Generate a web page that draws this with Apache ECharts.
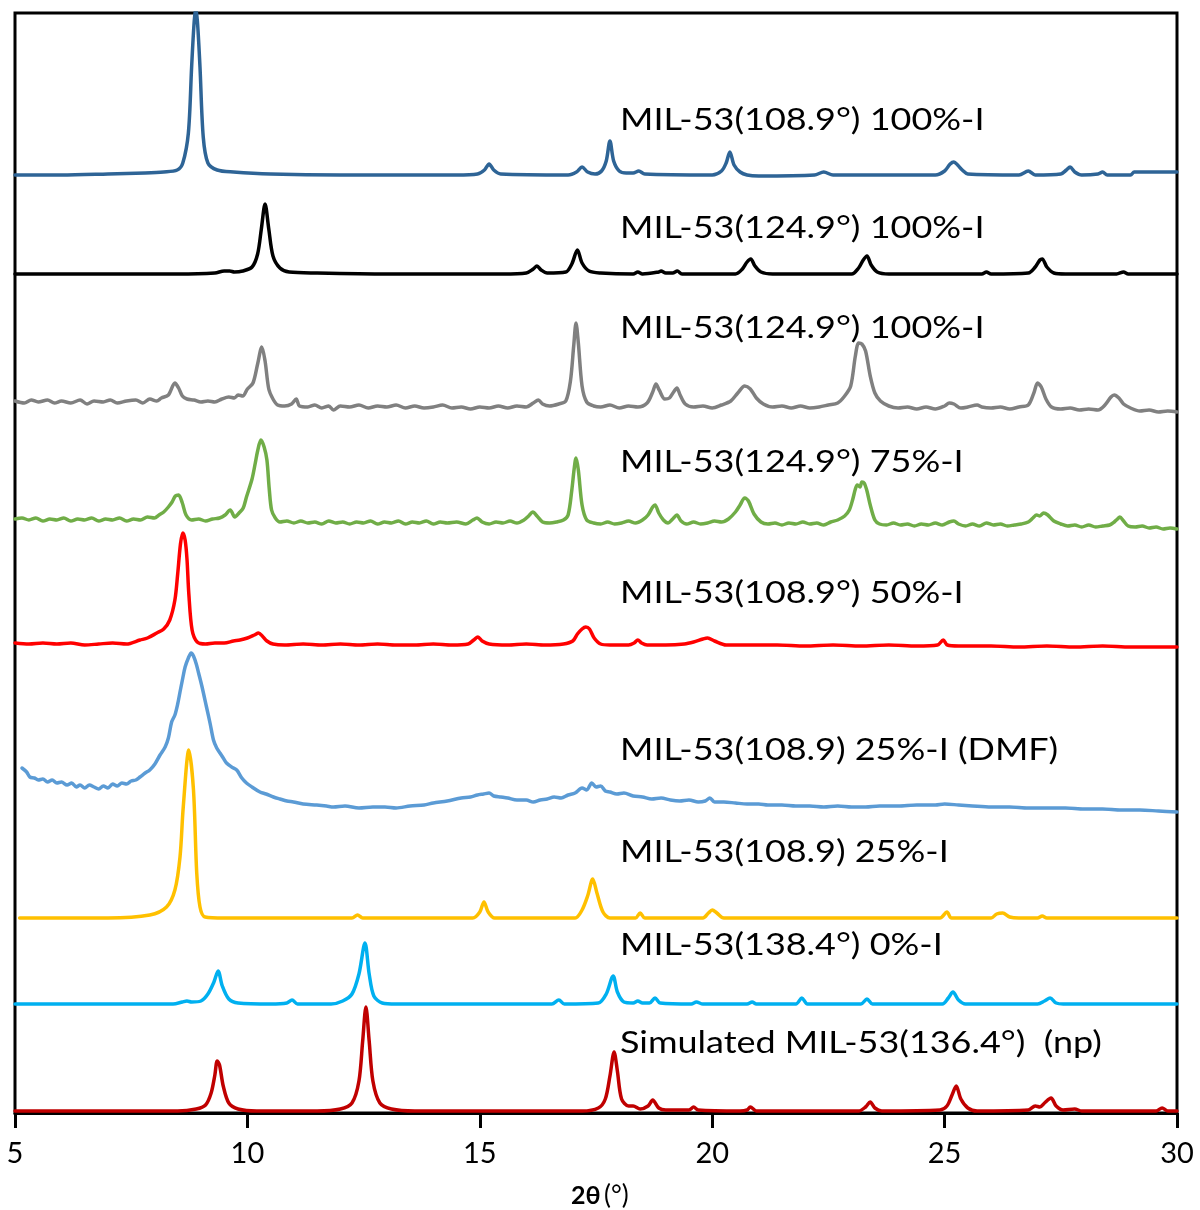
<!DOCTYPE html>
<html>
<head>
<meta charset="utf-8">
<script src="https://cdn.jsdelivr.net/npm/echarts@6/dist/echarts.min.js"></script>
<style>html,body{margin:0;padding:0;background:#fff}#c{width:1200px;height:1210px}</style>
</head>
<body>
<div id="c"></div>
<script>
// x tick labels
var xTicks = [5, 10, 15, 20, 25, 30];

// series names (top to bottom)
var seriesNames = [
  'MIL-53(108.9°) 100%-I',
  'MIL-53(124.9°) 100%-I',
  'MIL-53(124.9°) 100%-I',
  'MIL-53(124.9°) 75%-I',
  'MIL-53(108.9°) 50%-I',
  'MIL-53(108.9) 25%-I (DMF)',
  'MIL-53(108.9) 25%-I',
  'MIL-53(138.4°) 0%-I',
  'Simulated MIL-53(136.4°)  (np)'
];

// vertical stacking offsets of each pattern (a.u.)
var offsets = [938, 839, 712, 594, 469, 305, 195, 109, 2];

// [2θ, intensity] pairs
var s1 = [[5.0,0],[6.0,0],[7.0,1],[7.8,2],[8.2,3],[8.49,5],[8.61,12],[8.73,42],[8.80,108],[8.85,150],[8.89,168],[8.93,150],[8.98,108],[9.05,38],[9.15,12],[9.35,5],[9.7,3],[10.5,1],[12,0],[14.5,0],[14.95,1],[15.1,5],[15.2,11],[15.3,5],[15.45,1],[16.9,0],[17.08,3],[17.2,8],[17.32,3],[17.48,1],[17.62,4],[17.72,14],[17.8,34],[17.88,14],[18.0,4],[18.15,2],[18.3,2],[18.42,4],[18.55,1],[20.0,0],[20.2,4],[20.3,12],[20.38,23],[20.47,10],[20.6,3],[20.75,0],[21.0,-1],[22.2,0],[22.4,3],[22.6,0],[24.8,0],[25.0,4],[25.12,11],[25.2,13],[25.28,10],[25.38,5],[25.5,1],[26.6,0],[26.8,4],[26.95,0],[27.5,1],[27.62,5],[27.7,8],[27.8,3],[27.95,0],[28.3,1],[28.4,3],[28.5,0],[29.0,0],[29.08,3],[29.3,3],[30,3]];
var s2 = [[5,0],[8.5,0],[9.3,1],[9.5,3],[9.62,3],[9.72,2],[9.9,3],[10.1,7],[10.22,20],[10.3,45],[10.38,70],[10.46,45],[10.55,18],[10.7,6],[10.9,2],[11.5,1],[13,0],[15.5,0],[16.0,1],[16.15,5],[16.23,8],[16.32,4],[16.45,1],[16.85,2],[16.98,10],[17.1,24],[17.2,11],[17.35,3],[17.6,1],[18.3,0],[18.4,2],[18.5,0],[18.85,2],[18.9,3],[19.0,1],[19.15,1],[19.25,3],[19.35,0],[20.5,0],[20.65,5],[20.75,12],[20.83,15],[20.92,8],[21.05,2],[21.3,0],[23.0,0],[23.15,6],[23.25,14],[23.33,18],[23.42,9],[23.55,2],[23.8,0],[25.8,0],[25.9,2],[26.0,0],[26.8,1],[26.95,7],[27.05,14],[27.1,15],[27.2,7],[27.35,1],[27.6,0],[28.7,0],[28.85,2],[28.95,0],[30,0]];
var s3 = [[5.0,0],[5.2,-2],[5.35,1],[5.5,-1],[5.7,1],[5.85,-2],[6.0,0],[6.2,-2],[6.4,1],[6.55,-3],[6.7,0],[6.9,-1],[7.05,1],[7.2,-2],[7.4,0],[7.6,1],[7.75,-2],[7.9,2],[8.05,0],[8.15,3],[8.3,6],[8.44,18],[8.52,13],[8.6,5],[8.7,2],[8.85,1],[9.0,-1],[9.15,0],[9.3,-1],[9.45,2],[9.6,4],[9.72,3],[9.8,6],[9.9,5],[10.0,12],[10.12,18],[10.22,37],[10.31,54],[10.38,40],[10.46,12],[10.55,2],[10.65,-4],[10.8,-5],[10.95,-3],[11.05,2],[11.12,-5],[11.3,-6],[11.45,-4],[11.6,-7],[11.75,-5],[11.85,-9],[12.0,-5],[12.2,-6],[12.4,-4],[12.6,-7],[12.8,-5],[13.0,-6],[13.2,-4],[13.4,-7],[13.6,-5],[13.8,-7],[14.0,-6],[14.2,-4],[14.4,-7],[14.6,-6],[14.8,-8],[15.0,-6],[15.2,-7],[15.4,-5],[15.6,-7],[15.8,-5],[16.0,-6],[16.15,-2],[16.26,1],[16.35,-3],[16.5,-5],[16.7,-3],[16.85,0],[16.95,20],[17.02,55],[17.07,78],[17.12,58],[17.2,15],[17.3,-1],[17.45,-5],[17.6,-6],[17.8,-4],[18.0,-7],[18.2,-5],[18.4,-6],[18.6,-2],[18.72,9],[18.79,17],[18.86,11],[18.98,2],[19.08,3],[19.17,9],[19.24,13],[19.31,6],[19.42,-3],[19.6,-6],[19.8,-5],[20.0,-7],[20.2,-4],[20.4,0],[20.55,8],[20.7,15],[20.82,12],[20.95,3],[21.1,-3],[21.3,-6],[21.5,-5],[21.7,-7],[21.9,-5],[22.1,-7],[22.3,-6],[22.5,-4],[22.7,-2],[22.85,5],[22.98,15],[23.08,45],[23.15,58],[23.22,57],[23.3,50],[23.4,25],[23.5,8],[23.62,0],[23.8,-5],[24.0,-7],[24.2,-6],[24.4,-8],[24.6,-6],[24.8,-8],[25.0,-5],[25.1,-2],[25.2,-3],[25.35,-7],[25.5,-6],[25.7,-4],[25.8,-6],[26.0,-7],[26.2,-6],[26.4,-8],[26.6,-6],[26.8,-4],[26.92,8],[27.0,18],[27.08,14],[27.18,2],[27.3,-6],[27.5,-8],[27.7,-7],[27.9,-9],[28.1,-8],[28.3,-9],[28.45,-4],[28.58,4],[28.65,6],[28.75,3],[28.85,-3],[29.0,-7],[29.2,-10],[29.4,-9],[29.6,-11],[29.8,-10],[30.0,-11]];
var s4 = [[5.0,0],[5.15,1],[5.3,-1],[5.45,1],[5.6,-2],[5.75,0],[5.9,-1],[6.05,1],[6.2,-2],[6.35,0],[6.5,-1],[6.65,1],[6.8,-2],[6.95,0],[7.1,-1],[7.25,1],[7.4,-2],[7.55,0],[7.7,-1],[7.85,2],[8.0,1],[8.1,4],[8.2,7],[8.3,12],[8.38,17],[8.45,23],[8.52,24],[8.6,16],[8.68,4],[8.8,-1],[8.95,0],[9.1,-2],[9.25,0],[9.4,1],[9.52,4],[9.63,9],[9.73,2],[9.82,6],[9.91,11],[9.98,22],[10.1,40],[10.17,56],[10.22,68],[10.29,79],[10.36,72],[10.42,59],[10.47,30],[10.52,9],[10.6,1],[10.7,-3],[10.85,-2],[11.0,-4],[11.15,-2],[11.3,-4],[11.45,-3],[11.6,-5],[11.75,-2],[11.9,-4],[12.05,-3],[12.2,-5],[12.35,-3],[12.5,-4],[12.65,-2],[12.8,-5],[12.95,-3],[13.1,-4],[13.25,-2],[13.4,-5],[13.55,-3],[13.7,-4],[13.85,-2],[14.0,-5],[14.15,-3],[14.3,-4],[14.5,-3],[14.7,-5],[14.85,-1],[14.94,1],[15.05,-3],[15.2,-5],[15.35,-3],[15.5,-4],[15.65,-2],[15.8,-4],[15.95,-1],[16.05,3],[16.14,7],[16.23,3],[16.35,-3],[16.5,-4],[16.65,-3],[16.8,-1],[16.9,4],[16.98,29],[17.03,50],[17.07,61],[17.12,49],[17.2,14],[17.3,-1],[17.45,-4],[17.6,-5],[17.75,-3],[17.9,-5],[18.05,-4],[18.2,-2],[18.35,-4],[18.5,-1],[18.62,4],[18.72,12],[18.77,14],[18.85,6],[18.95,-1],[19.05,-4],[19.15,0],[19.24,4],[19.33,-2],[19.45,-5],[19.6,-3],[19.75,-5],[19.9,-4],[20.05,-2],[20.2,-3],[20.35,0],[20.5,7],[20.6,14],[20.7,21],[20.78,18],[20.9,5],[21.05,-3],[21.2,-5],[21.35,-4],[21.5,-6],[21.65,-4],[21.8,-5],[21.95,-3],[22.1,-5],[22.25,-4],[22.4,-6],[22.55,-3],[22.7,-1],[22.85,3],[22.95,9],[23.02,19],[23.08,30],[23.12,34],[23.18,32],[23.22,37],[23.27,36],[23.33,28],[23.4,14],[23.5,-1],[23.6,-5],[23.75,-6],[23.9,-4],[24.05,-6],[24.2,-5],[24.35,-7],[24.5,-5],[24.65,-6],[24.8,-4],[24.95,-6],[25.1,-3],[25.2,-2],[25.3,-5],[25.45,-7],[25.6,-5],[25.75,-7],[25.9,-4],[26.05,-6],[26.2,-5],[26.35,-7],[26.5,-6],[26.65,-5],[26.8,-3],[26.9,1],[26.98,4],[27.05,3],[27.13,6],[27.22,4],[27.35,-2],[27.5,-5],[27.65,-7],[27.8,-6],[27.95,-8],[28.1,-6],[28.25,-8],[28.4,-7],[28.55,-6],[28.65,-3],[28.72,0],[28.77,2],[28.85,-2],[28.95,-7],[29.1,-8],[29.25,-7],[29.4,-9],[29.55,-8],[29.7,-10],[29.85,-9],[30.0,-10]];
var s5 = [[5.0,1],[5.3,0],[5.6,1],[5.9,0],[6.2,1],[6.5,-1],[6.8,0],[7.1,1],[7.4,0],[7.69,4],[7.85,6],[8.05,11],[8.2,15],[8.33,24],[8.44,44],[8.5,70],[8.56,100],[8.61,111],[8.66,104],[8.7,85],[8.74,50],[8.81,14],[8.92,2],[9.1,0],[9.3,1],[9.5,1],[9.7,3],[9.84,4],[10.0,6],[10.15,9],[10.24,11],[10.32,8],[10.42,3],[10.55,0],[10.8,-1],[11.2,0],[11.6,-1],[12.0,0],[12.4,-1],[12.8,0],[13.2,-1],[13.6,-1],[14.0,0],[14.4,-1],[14.75,0],[14.87,4],[14.96,7],[15.05,3],[15.2,0],[15.6,-1],[16.0,0],[16.4,-1],[16.8,0],[17.0,3],[17.1,10],[17.2,15],[17.28,17],[17.36,15],[17.46,6],[17.6,0],[17.8,-1],[18.2,-1],[18.32,1],[18.4,4],[18.48,1],[18.6,-1],[19.0,-1],[19.4,0],[19.6,2],[19.8,5],[19.9,6],[20.05,3],[20.3,-1],[20.8,-1],[21.4,-1],[22.0,-2],[22.6,-1],[23.2,-2],[23.8,-1],[24.4,-2],[24.85,-1],[24.97,4],[25.06,-1],[25.3,-2],[26.0,-2],[26.6,-3],[27.2,-2],[27.8,-3],[28.4,-2],[29.0,-3],[29.6,-3],[30.0,-3]];
var s6 = [[5.15,40],[5.25,36],[5.32,31],[5.42,30],[5.5,28],[5.6,29],[5.7,26],[5.8,28],[5.9,25],[6.0,26],[6.12,23],[6.22,25],[6.32,21],[6.4,23],[6.5,20],[6.6,23],[6.7,21],[6.8,19],[6.9,22],[7.0,20],[7.1,24],[7.2,22],[7.3,25],[7.4,24],[7.5,27],[7.6,28],[7.69,31],[7.8,35],[7.9,38],[8.01,44],[8.12,53],[8.23,61],[8.3,70],[8.37,86],[8.44,93],[8.5,104],[8.55,116],[8.61,130],[8.66,141],[8.73,150],[8.79,155],[8.84,152],[8.9,144],[8.95,135],[9.02,122],[9.12,101],[9.2,84],[9.27,68],[9.34,60],[9.41,55],[9.48,50],[9.55,45],[9.66,41],[9.77,38],[9.88,30],[9.98,25],[10.1,21],[10.27,16],[10.4,14],[10.56,11],[10.7,9],[10.85,7],[10.99,6],[11.2,4],[11.49,3],[11.7,2],[11.85,1],[12.1,2],[12.4,0],[12.7,1],[12.96,1],[13.2,0],[13.5,2],[13.8,3],[14.0,5],[14.3,7],[14.6,10],[14.8,11],[14.95,13],[15.08,14],[15.2,15],[15.3,12],[15.45,11],[15.6,10],[15.8,8],[16.0,8],[16.15,6],[16.3,8],[16.45,9],[16.6,11],[16.75,10],[16.9,13],[17.05,15],[17.2,20],[17.3,18],[17.41,25],[17.5,21],[17.6,22],[17.7,17],[17.8,16],[17.95,14],[18.1,15],[18.3,12],[18.5,11],[18.7,9],[18.9,10],[19.1,8],[19.3,7],[19.5,8],[19.7,6],[19.85,7],[19.95,10],[20.05,6],[20.25,6],[20.5,5],[20.75,4],[21.0,4],[21.2,3],[21.5,3],[21.8,2],[22.1,2],[22.4,1],[22.7,2],[23.0,1],[23.3,1],[23.6,2],[24.0,2],[24.4,3],[24.8,3],[25.0,4],[25.3,3],[25.6,2],[26.0,1],[26.4,1],[26.8,0],[27.2,0],[27.6,0],[28.0,-1],[28.4,-1],[28.8,-2],[29.2,-2],[29.6,-3],[30.0,-4]];
var s7 = [[5.1,0],[7.0,0],[7.9,3],[8.26,11],[8.44,28],[8.55,61],[8.62,111],[8.74,168],[8.84,128],[8.91,45],[8.98,11],[9.09,1],[9.5,0],[12.25,0],[12.37,3],[12.48,0],[14.85,0],[15.0,6],[15.09,16],[15.18,6],[15.32,0],[17.05,0],[17.2,8],[17.32,22],[17.43,39],[17.52,25],[17.65,6],[17.8,0],[18.35,0],[18.45,5],[18.55,0],[19.8,0],[19.92,5],[20.0,8],[20.1,5],[20.25,0],[24.9,0],[25.05,6],[25.15,0],[26.0,0],[26.12,4],[26.25,5],[26.4,1],[26.6,0],[27.0,0],[27.1,2],[27.2,0],[30,0]];
var s8 = [[5,0],[8.4,0],[8.6,2],[8.7,3],[8.8,2],[9.0,3],[9.15,10],[9.28,22],[9.37,33],[9.46,18],[9.6,5],[9.8,1],[10.5,0],[10.85,1],[10.96,4],[11.08,0],[11.8,0],[12.05,3],[12.25,10],[12.4,30],[12.53,61],[12.62,30],[12.72,8],[12.9,1],[13.2,0],[16.55,0],[16.7,4],[16.82,0],[17.55,1],[17.72,10],[17.87,28],[17.96,12],[18.1,2],[18.3,1],[18.4,3],[18.5,1],[18.65,1],[18.77,6],[18.88,1],[19.55,0],[19.66,2],[19.8,0],[20.75,0],[20.86,2],[20.95,0],[21.8,0],[21.93,6],[22.05,0],[23.2,0],[23.33,5],[23.45,0],[24.95,0],[25.08,6],[25.18,12],[25.3,4],[25.45,0],[27.0,0],[27.15,3],[27.27,6],[27.4,1],[27.55,0],[30,0]];
var s9 = [[5,0],[8.5,0],[8.9,2],[9.1,6],[9.22,18],[9.3,36],[9.35,50],[9.4,46],[9.48,25],[9.6,8],[9.8,2],[10.2,0],[11.5,0],[12.0,2],[12.25,8],[12.4,30],[12.48,70],[12.55,104],[12.62,70],[12.7,30],[12.85,8],[13.1,2],[13.6,0],[17.2,0],[17.55,3],[17.7,12],[17.8,35],[17.89,59],[17.96,40],[18.05,12],[18.2,5],[18.3,5],[18.45,2],[18.62,5],[18.72,11],[18.85,3],[19.0,1],[19.5,1],[19.6,4],[19.7,1],[20.6,0],[20.75,1],[20.82,4],[20.95,0],[23.15,0],[23.3,4],[23.4,9],[23.5,3],[23.65,0],[24.9,1],[25.05,5],[25.16,16],[25.25,25],[25.35,12],[25.5,3],[25.7,0],[26.8,1],[26.95,5],[27.05,4],[27.15,8],[27.29,13],[27.4,5],[27.55,1],[27.8,2],[27.95,0],[29.55,0],[29.68,3],[29.8,0],[30,0]];

var patterns = [s1, s2, s3, s4, s5, s6, s7, s8, s9];
var colors = ['#2E6496', '#000000', '#808080', '#70AD47', '#FF0000', '#5B9BD5', '#FFC000', '#00B0F0', '#C00000'];
var labelY = [120, 228, 328, 462, 593, 750, 852, 945, 1043];

var FONT = 'Lato, "Open Sans", sans-serif';
var chart = echarts.init(document.getElementById('c'), null, {renderer: 'canvas'});

var series = patterns.map(function (p, i) {
  return {
    type: 'line',
    name: seriesNames[i],
    data: p.map(function (d) { return [d[0], d[1] + offsets[i]]; }),
    showSymbol: false,
    smooth: 0.3,
    clip: true,
    lineStyle: {color: colors[i], width: 3.5, cap: 'round', join: 'round'},
    itemStyle: {color: colors[i]},
    z: 2 + i,
    silent: true
  };
});

var graphics = seriesNames.map(function (n, i) {
  return {
    type: 'text',
    x: 620, y: labelY[i],
    scaleX: 1.16,
    style: {text: n, fill: '#000', font: '31px ' + FONT, verticalAlign: 'middle', align: 'left'},
    z: 100
  };
});
graphics.push({
  type: 'text', x: 571, y: 1196,
  style: {text: '2θ', fill: '#000', font: 'bold 25px ' + FONT, verticalAlign: 'middle', align: 'left'}
});
graphics.push({
  type: 'text', x: 604, y: 1196,
  style: {text: '(°)', fill: '#000', font: '26px ' + FONT, verticalAlign: 'middle', align: 'left'}
});

chart.setOption({
  animation: false,
  backgroundColor: '#fff',
  grid: {left: 15, top: 13, width: 1162, height: 1100, show: true, borderColor: '#000', borderWidth: 3, backgroundColor: 'transparent', containLabel: false},
  xAxis: {
    type: 'value', min: 5, max: 30, interval: 5,
    axisLine: {show: true, onZero: false, lineStyle: {color: '#000', width: 3}},
    axisTick: {show: true, inside: false, length: 15, lineStyle: {color: '#000', width: 3}},
    axisLabel: {color: '#000', fontSize: 29, fontFamily: FONT, margin: 26,
      formatter: function (v) { return xTicks.indexOf(v) >= 0 ? String(v) : ''; }},
    splitLine: {show: false}
  },
  yAxis: {
    type: 'value', min: 0, max: 1100, show: false,
    splitLine: {show: false}
  },
  series: series,
  graphic: graphics
});
</script>
</body>
</html>
